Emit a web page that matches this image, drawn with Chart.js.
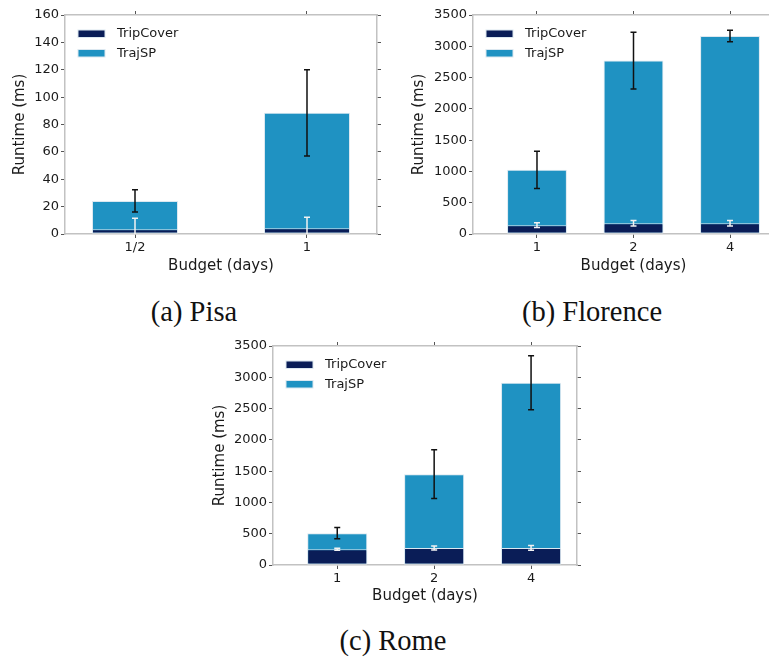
<!DOCTYPE html>
<html>
<head>
<meta charset="utf-8">
<script src="https://cdn.jsdelivr.net/npm/chart.js@4.4.1/dist/chart.umd.min.js"></script>
<style>
  html, body { margin: 0; padding: 0; background: #fff; overflow: hidden; width: 769px; height: 657px; position: relative; }
  canvas { position: absolute; }
  .caption {
    position: absolute;
    font-family: 'Liberation Serif', 'Times New Roman', serif;
    font-size: 28.5px;
    line-height: 1;
    color: #111;
    white-space: nowrap;
    transform: translateX(-50%);
  }
</style>
</head>
<body>
<canvas id="pisa" width="385" height="280" style="left:0;top:0"></canvas>
<canvas id="florence" width="420" height="280" style="left:385px;top:0"></canvas>
<canvas id="rome" width="400" height="280" style="left:200px;top:330px"></canvas>
<div class="caption" style="left:194px;top:298px">(a) Pisa</div>
<div class="caption" style="left:592px;top:298px">(b) Florence</div>
<div class="caption" style="left:393px;top:627px">(c) Rome</div>
<script>
// values (runtime in ms, mean and error)
const pisaBudgets = ['1/2', '1'];
const pisaTripCover = [3.5, 4.2];
const pisaTripCoverErr = [8, 8];
const pisaTrajSP = [24.2, 88.5];
const pisaTrajSPErr = [8.2, 31.5];

const florenceBudgets = ['1', '2', '4'];
const florenceTripCover = [140, 172, 172];
const florenceTripCoverErr = [38, 43, 43];
const florenceTrajSP = [1025, 2772, 3163];
const florenceTrajSPErr = [296, 454, 92];

const romeBudgets = ['1', '2', '4'];
const romeTripCover = [251, 273, 273];
const romeTripCoverErr = [15, 32, 37];
const romeTrajSP = [509, 1452, 2912];
const romeTrajSPErr = [89, 388, 432];

const COLORS = {
  tripCover: '#0a1d57',
  trajSP: '#1f92c2',
  barEdge: '#dce8f0',
  spine: '#c2c2c2',
  tick: '#555',
  text: '#1a1a1a'
};

Chart.defaults.font.family = '"DejaVu Sans", sans-serif';
Chart.defaults.color = COLORS.text;

const errorBars = {
  id: 'errorBars',
  afterDatasetsDraw(chart) {
    const { ctx, chartArea, scales } = chart;
    ctx.save();
    ctx.beginPath();
    ctx.rect(chartArea.left, chartArea.top, chartArea.right - chartArea.left, chartArea.bottom - chartArea.top);
    ctx.clip();
    ctx.lineWidth = 1.5;
    [1, 0].forEach((i) => {
      const ds = chart.data.datasets[i];
      const meta = chart.getDatasetMeta(i);
      ctx.strokeStyle = ds.errorColor;
      meta.data.forEach((bar, j) => {
        const v = ds.data[j].y;
        const e = ds.errors[j];
        const top = scales.y.getPixelForValue(v + e);
        const bot = scales.y.getPixelForValue(v - e);
        ctx.beginPath();
        ctx.moveTo(bar.x, top); ctx.lineTo(bar.x, bot);
        ctx.moveTo(bar.x - 3, top); ctx.lineTo(bar.x + 3, top);
        ctx.moveTo(bar.x - 3, bot); ctx.lineTo(bar.x + 3, bot);
        ctx.stroke();
      });
    });
    ctx.restore();
  }
};

const boxLegend = {
  id: 'boxLegend',
  afterDraw(chart) {
    const { ctx, chartArea } = chart;
    ctx.save();
    ctx.font = '13px "DejaVu Sans"';
    ctx.textBaseline = 'middle';
    chart.data.datasets.forEach((ds, i) => {
      const x = chartArea.left + 13;
      const y = chartArea.top + 15 + i * 19.5;
      ctx.fillStyle = ds.backgroundColor;
      ctx.fillRect(x, y, 27, 7.5);
      ctx.strokeStyle = COLORS.barEdge;
      ctx.lineWidth = 1;
      ctx.strokeRect(x, y, 27, 7.5);
      ctx.fillStyle = COLORS.text;
      ctx.fillText(ds.label, x + 39, y + 4);
    });
    ctx.restore();
  }
};

function fixedSize(size) {
  return (scale) => {
    if (scale.isHorizontal()) scale.height = size;
    else scale.width = size;
  };
}

function frameAxis(extra) {
  return Object.assign({
    offset: false,
    grid: { offset: false, drawOnChartArea: false, drawTicks: true, tickLength: 4, tickColor: COLORS.tick, tickWidth: 1 },
    border: { color: COLORS.spine, width: 1.5 }
  }, extra);
}

function makeChart(id, cfg) {
  const positions = cfg.budgets.map((_, i) => i);
  const setTicks = (scale) => { scale.ticks = positions.map((v) => ({ value: v })); };
  const toPoints = (values) => positions.map((x, i) => ({ x, y: values[i] }));
  const barStyle = {
    grouped: false,
    barPercentage: cfg.barPct,
    categoryPercentage: 1,
    borderWidth: 1,
    borderColor: COLORS.barEdge,
    borderSkipped: false
  };

  return new Chart(document.getElementById(id), {
    type: 'bar',
    data: {
      datasets: [
        Object.assign({
          label: 'TripCover',
          data: toPoints(cfg.tripCover),
          errors: cfg.tripCoverErr,
          errorColor: '#f2f2f2',
          backgroundColor: COLORS.tripCover
        }, barStyle),
        Object.assign({
          label: 'TrajSP',
          data: toPoints(cfg.trajSP),
          errors: cfg.trajSPErr,
          errorColor: '#111',
          backgroundColor: COLORS.trajSP
        }, barStyle)
      ]
    },
    options: {
      responsive: false,
      animation: false,
      layout: { padding: 0 },
      plugins: { legend: { display: false }, tooltip: { enabled: false } },
      scales: {
        x: frameAxis({
          type: 'linear',
          min: cfg.xMin,
          max: cfg.xMax,
          afterBuildTicks: setTicks,
          afterFit: fixedSize(cfg.box.bottom),
          ticks: {
            font: { size: 13 },
            padding: 2,
            maxRotation: 0,
            autoSkip: false,
            callback: (value) => cfg.budgets[positions.indexOf(value)] ?? ''
          },
          title: { display: true, text: 'Budget (days)', font: { size: 15 }, padding: { top: 0, bottom: 5 } }
        }),
        x2: frameAxis({
          type: 'linear',
          position: 'top',
          min: cfg.xMin,
          max: cfg.xMax,
          afterBuildTicks: setTicks,
          afterFit: fixedSize(cfg.box.top),
          ticks: { display: false }
        }),
        y: frameAxis({
          min: 0,
          max: cfg.yMax,
          afterFit: fixedSize(cfg.box.left),
          ticks: { stepSize: cfg.yStep, font: { size: 13 }, padding: 2, callback: (value) => String(value) },
          title: { display: true, text: 'Runtime (ms)', font: { size: 15 }, padding: { top: cfg.titlePad, bottom: 0 } }
        }),
        y2: frameAxis({
          type: 'linear',
          position: 'right',
          min: 0,
          max: cfg.yMax,
          afterFit: fixedSize(cfg.box.right),
          ticks: { display: false, stepSize: cfg.yStep }
        })
      }
    },
    plugins: [errorBars, boxLegend]
  });
}

makeChart('pisa', {
  budgets: pisaBudgets,
  tripCover: pisaTripCover, tripCoverErr: pisaTripCoverErr,
  trajSP: pisaTrajSP, trajSPErr: pisaTrajSPErr,
  yMax: 160, yStep: 20,
  xMin: -0.407, xMax: 1.407, barPct: 0.5,
  box: { left: 65, right: 8, top: 15, bottom: 46 },
  titlePad: 11
});

makeChart('florence', {
  budgets: florenceBudgets,
  tripCover: florenceTripCover, tripCoverErr: florenceTripCoverErr,
  trajSP: florenceTrajSP, trajSPErr: florenceTrajSPErr,
  yMax: 3500, yStep: 500,
  xMin: -0.663, xMax: 2.663, barPct: 0.62,
  box: { left: 88, right: 11, top: 15, bottom: 46 },
  titlePad: 25
});

makeChart('rome', {
  budgets: romeBudgets,
  tripCover: romeTripCover, tripCoverErr: romeTripCoverErr,
  trajSP: romeTrajSP, trajSPErr: romeTrajSPErr,
  yMax: 3500, yStep: 500,
  xMin: -0.663, xMax: 2.474, barPct: 0.62,
  box: { left: 73, right: 23, top: 16, bottom: 45 },
  titlePad: 11
});
</script>
</body>
</html>
